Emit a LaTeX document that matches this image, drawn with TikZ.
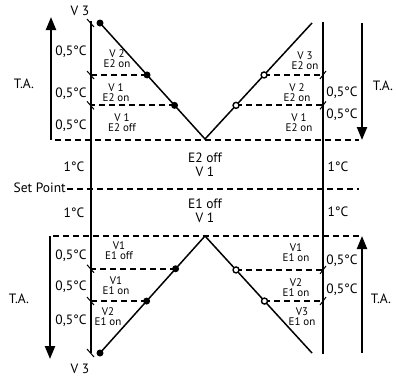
\documentclass[tikz,border=0pt]{standalone}
\usepackage{fontspec}
\setmainfont{PT Sans}
\usetikzlibrary{arrows.meta,calc}
\begin{document}
\begin{tikzpicture}[x=1pt,y=-1pt,
  axis/.style={line width=2.4pt},
  vline/.style={line width=1.5pt},
  dline/.style={line width=1.9pt,dash pattern=on 6pt off 4pt},
  taarrow/.style={line width=2.2pt,-{Triangle[width=10pt,length=13pt]}},
  fdot/.style={circle,fill=black,inner sep=0pt,minimum size=7pt},
  odot/.style={circle,draw=black,fill=white,line width=1.4pt,inner sep=0pt,minimum size=6pt},
  big/.style={font=\fontsize{13.5}{13.5}\selectfont,inner sep=0pt},
  small/.style={font=\fontsize{11}{10}\selectfont,inner sep=0pt,align=center},
  tickl/.style={line width=1pt},
]
\useasboundingbox (0,0) rectangle (396,376);
% axes
\coordinate (Lt) at (91,21);
\coordinate (Lb) at (91,353);
\coordinate (Rt) at (323,22);
\coordinate (Rb) at (323,354);
\draw[axis] (Lt) -- (Lb);
\draw[axis] (Rt) -- (Rb);
% long dashed lines
\coordinate (d1a) at (55,140); \coordinate (d1b) at (359,140);
\coordinate (spa) at (67,189); \coordinate (spb) at (359,189);
\coordinate (d2a) at (53,236); \coordinate (d2b) at (359,236);
\draw[dline] (d1a) -- (d1b);
\draw[dline] (spa) -- (spb);
\draw[dline] (d2a) -- (d2b);
% V shapes
\coordinate (A1) at (100,23); \coordinate (B) at (205,139); \coordinate (A2) at (312,23);
\coordinate (C) at (205,236); \coordinate (D1) at (100,353); \coordinate (D2) at (312,353);
\draw[vline] (A1) -- (B) -- (A2);
\draw[vline] (D1) -- (C) -- (D2);
% points on lines
\coordinate (p1) at ($(A1)!0.448!(B)$);
\coordinate (p2) at ($(A1)!0.71!(B)$);
\coordinate (q1) at ($(B)!0.552!(A2)$);
\coordinate (q2) at ($(B)!0.29!(A2)$);
\coordinate (r1) at ($(C)!0.28!(D1)$);
\coordinate (r2) at ($(C)!0.556!(D1)$);
\coordinate (s1) at ($(C)!0.29!(D2)$);
\coordinate (s2) at ($(C)!0.556!(D2)$);
\draw[dline] (p1) -- (p1 -| Lt);
\draw[dline] (p2) -- (p2 -| Lt);
\draw[dline] (q1) -- (q1 -| Rt);
\draw[dline] (q2) -- (q2 -| Rt);
\draw[dline] (r1) -- (r1 -| Lt);
\draw[dline] (r2) -- (r2 -| Lt);
\draw[dline] (s1) -- (s1 -| Rt);
\draw[dline] (s2) -- (s2 -| Rt);
% ticks
\foreach \c in {A1,p1,p2,r1,r2,D1} {
  \draw[tickl] ($(\c -| Lt)+(-4,-4)$) -- ($(\c -| Lt)+(3,4)$);
}
\foreach \c in {q1,q2,s1,s2} {
  \draw[tickl] ($(\c -| Rt)+(-3,4)$) -- ($(\c -| Rt)+(3,-4)$);
}
% dots
\node[fdot] (na1) at (A1) {};
\node[fdot] (np1) at (p1) {};
\node[fdot] (np2) at (p2) {};
\node[odot] (nq1) at (q1) {};
\node[odot] (nq2) at (q2) {};
\node[fdot] (nr1) at (r1) {};
\node[fdot] (nr2) at (r2) {};
\node[fdot] (nd1) at (D1) {};
\node[odot] (ns1) at (s1) {};
\node[odot] (ns2) at (s2) {};
% T.A. arrows
\coordinate (ta1s) at (51,140); \coordinate (ta1e) at (51,17);
\coordinate (ta2s) at (362,23); \coordinate (ta2e) at (362,140);
\coordinate (ta3s) at (50,236); \coordinate (ta3e) at (50,359);
\coordinate (ta4s) at (362,353); \coordinate (ta4e) at (362,236);
\draw[taarrow] (ta1s) -- (ta1e);
\draw[taarrow] (ta2s) -- (ta2e);
\draw[taarrow] (ta3s) -- (ta3e);
\draw[taarrow] (ta4s) -- (ta4e);
% big labels
\node[big] (v3t) at (80,11) {V 3};
\node[big] (v3b) at (80,369) {V 3};
\node[big] (ta1) at (24,84) {T.A.};
\node[big] (ta3) at (19,299) {T.A.};
\node[big] (ta2) at (383,86) {T.A.};
\node[big] (ta4) at (381,299) {T.A.};
\node[big,anchor=east] (sp) at (66,188) {Set Point};
\node[big] (c1) at (71,52) {0,5°C};
\node[big] (c2) at (71,94) {0,5°C};
\node[big] (c3) at (71,126) {0,5°C};
\node[big] (c4) at (71,256) {0,5°C};
\node[big] (c5) at (71,287) {0,5°C};
\node[big] (c6) at (71,321) {0,5°C};
\node[big] (c7) at (342,93) {0,5°C};
\node[big] (c8) at (342,115) {0,5°C};
\node[big] (c9) at (342,261) {0,5°C};
\node[big] (c10) at (342,290) {0,5°C};
\node[big] (o1) at (74,167) {1°C};
\node[big] (o2) at (74,213) {1°C};
\node[big] (o3) at (338,167) {1°C};
\node[big] (o4) at (338,212) {1°C};
\node[big,align=center] (mid1) at (205,165) {E2 off\\[0pt]V 1};
\node[big,align=center] (mid2) at (205,211) {E1 off\\[0pt]V 1};
% small labels
\node[small] (l1) at (117,59) {V 2\\E2 on};
\node[small] (l2) at (116,93) {V 1\\E2 on};
\node[small] (l3) at (122,123) {V 1\\E2 off};
\node[small] (l4) at (305,61) {V 3\\E2 on};
\node[small] (l5) at (297,93) {V 2\\E2 on};
\node[small] (l6) at (299,123) {V 1\\E2 on};
\node[small] (l7) at (119,251) {V1\\E1 off};
\node[small] (l8) at (116,286) {V1\\E1 on};
\node[small] (l9) at (108,317) {V2\\E1 on};
\node[small] (l10) at (296,253) {V1\\E1 on};
\node[small] (l11) at (296,288) {V2\\E1 on};
\node[small] (l12) at (302,317) {V3\\E1 on};
\end{tikzpicture}
\end{document}
